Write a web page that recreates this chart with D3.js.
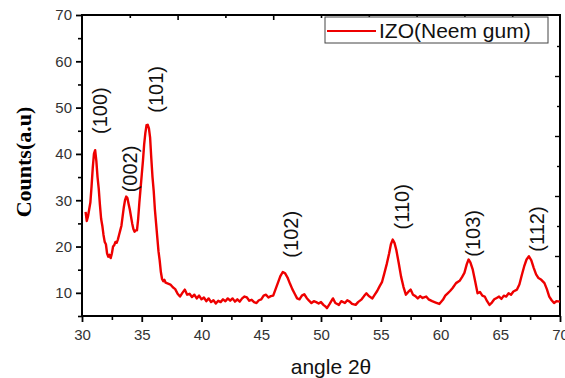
<!DOCTYPE html>
<html>
<head>
<meta charset="utf-8">
<script src="https://cdn.jsdelivr.net/npm/d3@7"></script>
<style>
  body { margin: 0; background: #fff; }
  svg { display: block; }
  .tick text { font-family: "Liberation Sans", Arial, sans-serif; fill: #333; }
</style>
</head>
<body>
<svg class="xrd" width="565" height="378"></svg>
<script>
// XRD pattern: angle 2theta and counts
let angles = [30.3,30.4,30.5,30.6,30.7,30.8,30.9,31.0,31.1,31.2,31.3,31.4,31.5,31.6,31.7,31.8,31.9,32.0,32.1,32.2,32.3,32.4,32.5,32.6,32.7,32.8,32.9,33.0,33.1,33.2,33.3,33.4,33.5,33.6,33.7,33.8,33.9,34.0,34.1,34.2,34.3,34.4,34.5,34.6,34.7,34.8,34.9,35.0,35.1,35.2,35.3,35.4,35.5,35.6,35.7,35.8,35.9,36.0,36.1,36.2,36.3,36.4,36.5,36.6,36.7,36.8,36.9,37.0,37.2,37.4,37.6,37.8,38.0,38.2,38.4,38.6,38.8,39.0,39.2,39.4,39.6,39.8,40.0,40.2,40.4,40.6,40.8,41.0,41.2,41.4,41.6,41.8,42.0,42.2,42.4,42.6,42.8,43.0,43.2,43.4,43.6,43.8,44.0,44.2,44.4,44.6,44.8,45.0,45.2,45.4,45.6,45.8,46.0,46.2,46.4,46.6,46.8,47.0,47.2,47.4,47.6,47.8,48.0,48.2,48.4,48.6,48.8,49.0,49.2,49.4,49.6,49.8,50.0,50.2,50.4,50.5,50.7,51.0,51.2,51.5,51.7,52.0,52.2,52.4,52.6,52.9,53.1,53.4,53.6,53.8,54.0,54.3,54.5,54.7,54.9,55.1,55.3,55.5,55.7,55.85,56.0,56.15,56.3,56.5,56.7,56.9,57.1,57.3,57.5,57.7,57.9,58.1,58.3,58.5,58.8,59.0,59.3,59.6,59.9,60.2,60.4,60.6,60.8,61.0,61.3,61.6,61.8,62.0,62.2,62.35,62.5,62.7,62.9,63.1,63.3,63.5,63.7,63.9,64.1,64.3,64.5,64.7,64.9,65.1,65.3,65.5,65.7,65.9,66.1,66.4,66.6,66.8,67.0,67.2,67.4,67.6,67.8,68.0,68.2,68.4,68.7,68.9,69.1,69.3,69.5,69.7,70.0];
let counts = [27.5,25.5,26.5,28.0,29.5,33,37,40,40.8,38.5,35,32.5,29,26,24.5,22.5,21,20.5,18.5,17.8,18.2,17.5,18.5,20,20.3,21,20.8,21.5,22.5,23.5,24.5,26.5,28.5,30,30.8,30.5,29.2,28,26.5,25,23.8,23.2,23.5,23.5,26,29.5,32.5,35.5,38.5,42,44.5,46.2,46.3,45.5,43.5,39,35,32,28,25,22,19,17,14.5,13,12.5,12.8,12.2,12.0,11.8,11.2,10.8,9.8,9.2,10.0,10.7,9.6,9.8,9.1,9.6,8.8,9.4,8.6,9.0,8.2,8.8,8.0,8.4,7.7,8.3,8.0,8.6,8.2,8.8,8.3,8.8,8.1,8.6,8.1,8.8,9.2,9.0,8.3,8.5,8.0,7.8,8.4,8.6,9.4,9.6,9.0,9.3,9.4,10.8,12.2,13.6,14.5,14.2,13.3,12.0,10.8,9.8,8.8,8.6,9.4,9.7,8.9,8.3,7.8,8.2,8.0,7.7,8.0,7.4,7.0,6.7,7.5,8.8,7.8,7.4,8.2,7.8,8.4,8.1,7.6,7.4,8.0,8.6,9.3,9.9,9.3,8.8,9.6,10.4,11.4,12.3,14.2,16.2,18.5,20.5,21.5,20.8,19.3,16.5,13.5,11.3,9.6,10.2,10.7,9.6,9.3,8.8,9.3,8.9,9.2,8.6,8.2,7.9,7.6,8.5,9.4,9.9,10.4,11.0,12.1,12.6,13.4,14.3,16.2,17.2,16.6,15.0,12.5,9.9,10.2,9.4,9.2,8.2,7.4,7.9,8.6,8.9,9.2,8.7,9.4,9.2,9.9,9.6,10.3,10.7,11.8,13.8,15.7,17.2,17.9,17.0,15.4,14.0,13.2,12.9,12.1,10.8,9.2,8.4,7.8,8.2,8.1];

// peak labels (hkl) with the angle/count where the label sits
let peakNames  = ["(100)", "(002)", "(101)", "(102)", "(110)", "(103)", "(112)"];
let peakAngles = [31.5, 34.0, 36.2, 47.5, 56.8, 62.7, 68.1];
let peakCounts = [44.3, 31.7, 48.9, 17.6, 23.7, 17.8, 18.9];

let xTicks = [30, 35, 40, 45, 50, 55, 60, 65, 70];
let yTicks = [10, 20, 30, 40, 50, 60, 70];

let seriesName = "IZO(Neem gum)";

let plotL = 82, plotR = 560, plotT = 15, plotB = 316;

let svg = d3.select('svg.xrd');

let x = d3.scaleLinear().domain([30, 70]).range([plotL, plotR]);
let y = d3.scaleLinear().domain([5, 70]).range([plotB, plotT]);

// top and right axes have their own tick spacing in the original
let xTop = d3.scaleLinear().domain([0, 10]).range([plotL, plotR]);
let yRight = d3.scaleLinear().domain([0, 10]).range([plotB, plotT + 1]);

// minor ticks first
svg.append('g')
  .attr('transform', `translate(0,${plotB})`)
  .call(d3.axisBottom(x).tickValues(d3.range(32.5, 70, 5)).tickSize(4).tickFormat(''))
  .call(g => g.select('.domain').remove())
  .selectAll('line').style('stroke-width', '1.6px');

svg.append('g')
  .attr('transform', `translate(${plotL},0)`)
  .call(d3.axisLeft(y).tickValues(d3.range(5, 70, 10)).tickSize(4).tickFormat(''))
  .call(g => g.select('.domain').remove())
  .selectAll('line').style('stroke-width', '1.6px');

// major ticks and labels
let xAxis = svg.append('g')
  .attr('transform', `translate(0,${plotB})`)
  .call(d3.axisBottom(x).tickValues(xTicks).tickSize(6).tickPadding(7))
  .call(g => g.select('.domain').remove());
xAxis.selectAll('line').style('stroke-width', '1.8px');
xAxis.selectAll('text').style('font-size', '15px');

let yAxis = svg.append('g')
  .attr('transform', `translate(${plotL},0)`)
  .call(d3.axisLeft(y).tickValues(yTicks).tickSize(6).tickPadding(4))
  .call(g => g.select('.domain').remove());
yAxis.selectAll('line').style('stroke-width', '1.8px');
yAxis.selectAll('text').style('font-size', '15px');

// top axis, ticks inward
svg.append('g')
  .attr('transform', `translate(0,${plotT})`)
  .call(d3.axisBottom(xTop).tickValues(d3.range(1, 10)).tickFormat(''))
  .call(g => g.select('.domain').remove())
  .selectAll('line')
  .attr('y2', d => d % 2 == 0 ? 5 : 3)
  .style('stroke-width', '1.6px');

// right axis, ticks inward
svg.append('g')
  .attr('transform', `translate(${plotR},0)`)
  .call(d3.axisLeft(yRight).tickValues(d3.range(1, 10)).tickFormat(''))
  .call(g => g.select('.domain').remove())
  .selectAll('line')
  .attr('x2', d => d % 2 == 0 ? -5 : -3)
  .style('stroke-width', '1.4px');

// frame
svg.append('rect')
  .attr('x', plotL)
  .attr('y', plotT)
  .attr('width', plotR - plotL)
  .attr('height', plotB - plotT)
  .style('fill', 'none')
  .style('stroke', '#000')
  .style('stroke-width', '2px');

// the pattern
let pts = angles.map((a, i) => [a, counts[i]]);
let line = d3.line().x(d => x(d[0])).y(d => y(d[1]));

svg.append('path')
  .datum(pts)
  .attr('d', line)
  .style('fill', 'none')
  .style('stroke', '#ee0000')
  .style('stroke-width', '2.4px')
  .style('stroke-linejoin', 'round');

// hkl labels
svg.selectAll('text.peak')
  .data(peakNames)
  .enter()
  .append('text')
  .attr('class', 'peak')
  .attr('transform', (d, i) => `translate(${x(peakAngles[i])},${y(peakCounts[i])}) rotate(-90)`)
  .attr('dy', '0.35em')
  .style('font-family', '"Liberation Sans", Arial, sans-serif')
  .style('font-size', '20px')
  .style('fill', '#111')
  .text(d => d);

// legend
let lg = svg.append('g');
lg.append('rect')
  .attr('x', 325).attr('y', 17)
  .attr('width', 223).attr('height', 26)
  .style('fill', '#fff')
  .style('stroke', '#444')
  .style('stroke-width', '1px');
lg.append('line')
  .attr('x1', 327).attr('x2', 376)
  .attr('y1', 31).attr('y2', 31)
  .style('stroke', '#ee0000')
  .style('stroke-width', '2px');
lg.append('text')
  .attr('x', 379).attr('y', 38)
  .style('font-family', '"Liberation Sans", Arial, sans-serif')
  .style('font-size', '21px')
  .style('fill', '#111')
  .text(seriesName);

// axis titles
svg.append('text')
  .attr('transform', 'translate(31,162) rotate(-90)')
  .attr('text-anchor', 'middle')
  .style('font-family', '"Liberation Serif", "Times New Roman", serif')
  .style('font-weight', 'bold')
  .style('font-size', '22px')
  .style('fill', '#000')
  .text('Counts(a.u)');

svg.append('text')
  .attr('x', 331).attr('y', 374)
  .attr('text-anchor', 'middle')
  .style('font-family', '"Liberation Sans", Arial, sans-serif')
  .style('font-size', '21px')
  .style('fill', '#111')
  .text('angle 2θ');
</script>
</body>
</html>
